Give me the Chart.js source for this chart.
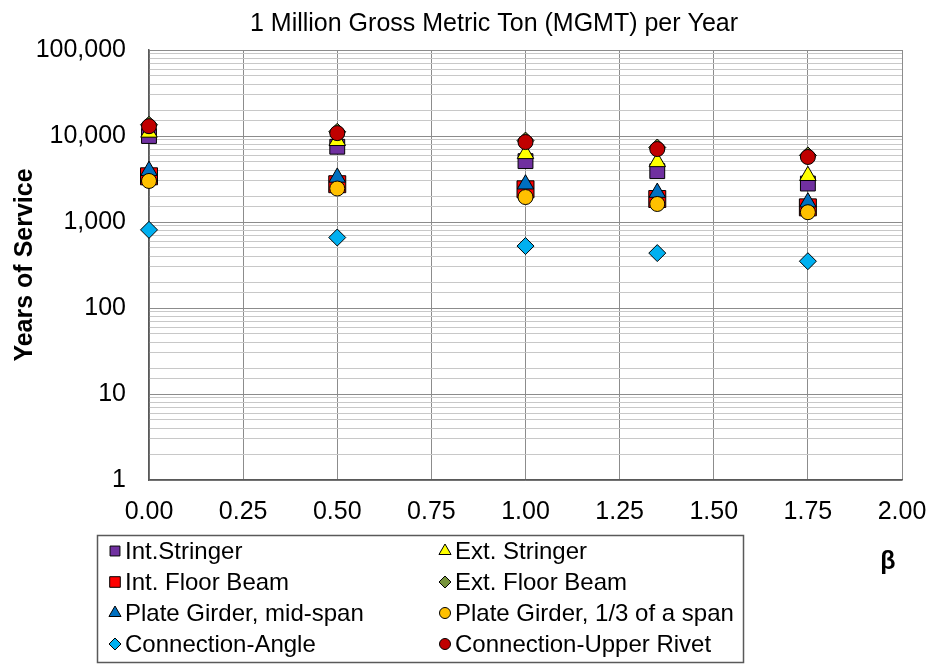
<!DOCTYPE html>
<html>
<head>
<meta charset="utf-8">
<script src="https://cdn.jsdelivr.net/npm/chart.js@4.4.1/dist/chart.umd.min.js"></script>
<style>
  html, body { margin: 0; padding: 0; background: #fff; }
  #wrap { position: relative; width: 932px; height: 664px; }
</style>
</head>
<body>
<div id="wrap"><canvas id="myChart" width="932" height="664"></canvas></div>
<script>
// beta values (x axis)
const betas = [0, 0.5, 1.0, 1.35, 1.75];

// years of service per detail
const intStringer   = [10000, 7500, 5100, 3900, 2800];
const extStringer   = [11000, 8800, 6200, 5000, 3450];
const intFloorBeam  = [3400, 2750, 2400, 1850, 1480];
const extFloorBeam  = [13500, 11200, 8850, 7350, 5950];
const plateMid      = [3950, 3300, 2750, 2200, 1700];
const plateThird    = [3000, 2450, 1950, 1620, 1300];
const connAngle     = [810, 660, 525, 435, 350];
const connRivet     = [13000, 10800, 8500, 7050, 5700];

const seriesNames = ['Int.Stringer', 'Ext. Stringer', 'Int. Floor Beam', 'Ext. Floor Beam',
  'Plate Girder, mid-span', 'Plate Girder, 1/3 of a span', 'Connection-Angle', 'Connection-Upper Rivet'];
const seriesData = [intStringer, extStringer, intFloorBeam, extFloorBeam, plateMid, plateThird, connAngle, connRivet];

const xTicks = [0, 0.25, 0.5, 0.75, 1.0, 1.25, 1.5, 1.75, 2.0];
const yMajor = [1, 10, 100, 1000, 10000, 100000];

const styles = [
  { shape: 'rect',     color: '#7030A0', r: 10.5, lr: 7 },
  { shape: 'triangle', color: '#FFFF00', r: 9.5,  lr: 7 },
  { shape: 'rect',     color: '#FF0000', r: 12,   lr: 7.5 },
  { shape: 'rectRot',  color: '#77933C', r: 8.5,  lr: 6 },
  { shape: 'triangle', color: '#0070C0', r: 9.5,  lr: 7 },
  { shape: 'circle',   color: '#FFC000', r: 7.5,  lr: 5.5 },
  { shape: 'rectRot',  color: '#00B0F0', r: 8.5,  lr: 6 },
  { shape: 'circle',   color: '#C00000', r: 7.5,  lr: 5.5 }
];

const FONT = '"Liberation Sans", Arial, sans-serif';

const datasets = seriesNames.map((name, i) => ({
  label: name,
  data: betas.map((b, j) => ({ x: b, y: seriesData[i][j] })),
  pointStyle: styles[i].shape,
  pointRadius: styles[i].r,
  pointHoverRadius: styles[i].r,
  backgroundColor: styles[i].color,
  borderColor: '#000',
  borderWidth: 1,
  showLine: false,
  clip: false,
  order: 7 - i   // later series drawn on top, like excel
}));

const extras = {
  id: 'extras',
  afterDraw: (chart) => {
    const ctx = chart.ctx;
    ctx.save();
    ctx.fillStyle = '#000';
    // title
    ctx.font = '25px ' + FONT;
    ctx.textAlign = 'center';
    ctx.textBaseline = 'alphabetic';
    ctx.fillText('1 Million Gross Metric Ton (MGMT) per Year', 494, 31);
    // beta label
    ctx.font = 'bold 25px ' + FONT;
    ctx.textBaseline = 'middle';
    ctx.fillText('β', 888, 562);
    // y title
    ctx.save();
    ctx.translate(32, 265);
    ctx.rotate(-Math.PI / 2);
    ctx.textBaseline = 'alphabetic';
    ctx.font = 'bold 25px ' + FONT;
    ctx.fillText('Years of Service', 0, 0);
    ctx.restore();

    // legend box
    ctx.strokeStyle = '#595959';
    ctx.lineWidth = 1.5;
    ctx.strokeRect(97.5, 535.5, 646, 127);
    ctx.font = '24px ' + FONT;
    ctx.textAlign = 'left';
    ctx.textBaseline = 'middle';
    const rows = [551, 582, 613, 644];
    const cols = [[115, 125], [445, 455]];
    seriesNames.forEach((name, i) => {
      const c = cols[i % 2], y = rows[Math.floor(i / 2)];
      ctx.fillStyle = styles[i].color;
      ctx.strokeStyle = '#000';
      ctx.lineWidth = 1;
      Chart.helpers.drawPoint(ctx, { pointStyle: styles[i].shape, radius: styles[i].lr, borderWidth: 1 }, c[0], y);
      ctx.fillStyle = '#000';
      ctx.fillText(name, c[1], y + 1);
    });
    ctx.restore();
  }
};

new Chart(document.getElementById('myChart'), {
  type: 'scatter',
  data: { datasets: datasets },
  options: {
    responsive: false,
    animation: false,
    layout: { padding: { top: 50, right: 30, left: 0, bottom: 0 } },
    plugins: {
      legend: { display: false },
      tooltip: { enabled: false },
      title: { display: false }
    },
    scales: {
      x: {
        type: 'linear',
        min: 0, max: 2,
        afterBuildTicks: (scale) => { scale.ticks = xTicks.map(v => ({ value: v })); },
        afterFit: (scale) => {
          scale.height = 184;
          scale.paddingLeft = 0;
          scale.paddingRight = 0;
        },
        ticks: {
          color: '#000',
          font: { family: FONT, size: 25 },
          padding: 17,
          maxRotation: 0,
          autoSkip: false,
          callback: (v) => Number(v).toFixed(2)
        },
        grid: { color: '#8c8c8c', lineWidth: 1, drawTicks: false },
        border: { color: '#595959', width: 1.5 }
      },
      y: {
        type: 'logarithmic',
        min: 1, max: 100000,
        afterFit: (scale) => { scale.width = 149; },
        ticks: {
          color: '#000',
          font: { family: FONT, size: 25 },
          padding: 23,
          autoSkip: false,
          callback: (v) => yMajor.includes(v) ? v.toLocaleString('en-US') : ''
        },
        grid: {
          color: (c) => (c.tick && yMajor.includes(c.tick.value)) ? '#8c8c8c' : '#c8c8c8',
          lineWidth: 1,
          drawTicks: false
        },
        border: { color: '#595959', width: 1.5 }
      }
    }
  },
  plugins: [extras]
});
</script>
</body>
</html>
